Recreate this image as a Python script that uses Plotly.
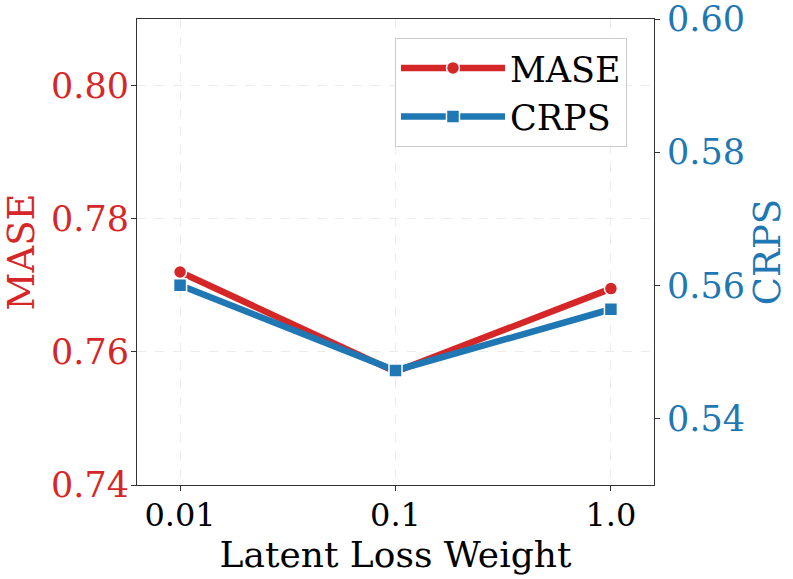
import plotly.graph_objects as go

categories = ["0.01", "0.1", "1.0"]
mase = [0.772, 0.757, 0.7695]
crps = [0.560, 0.5472, 0.5564]

RED = "#d62728"
BLUE = "#1f77b4"
FONT = "DejaVu Serif"

fig = go.Figure()
fig.add_trace(go.Scatter(
    x=categories, y=mase, name="MASE", mode="lines+markers",
    line=dict(color=RED, width=6.5),
    marker=dict(symbol="circle", size=13, color=RED, line=dict(color="white", width=1.5)),
    yaxis="y",
))
fig.add_trace(go.Scatter(
    x=categories, y=crps, name="CRPS", mode="lines+markers",
    line=dict(color=BLUE, width=6.5),
    marker=dict(symbol="square", size=13, color=BLUE, line=dict(color="white", width=1.5)),
    yaxis="y2",
))

grid = dict(showgrid=True, gridcolor="#ececec", griddash="dash", gridwidth=1)

fig.update_layout(
    width=793, height=579,
    margin=dict(l=137, r=139, t=19, b=94),
    paper_bgcolor="white", plot_bgcolor="white",
    font=dict(family=FONT, size=28, color="black"),
    showlegend=True,
    legend=dict(
        x=0.499, y=0.96, xanchor="left", yanchor="top",
        bgcolor="white", bordercolor="#cccccc", borderwidth=1,
        font=dict(family=FONT, size=35, color="black"),
        itemwidth=104, tracegroupgap=4,
    ),
    xaxis=dict(
        type="category", range=[-0.2, 2.2], automargin=False,
        title=dict(text="Latent Loss Weight", font=dict(family=FONT, size=36, color="black"), standoff=1),
        tickfont=dict(family=FONT, size=32, color="black"),
        ticks="outside", ticklen=5, tickcolor="#333",
        showline=True, linecolor="#333", linewidth=1, mirror=True,
        ticklabeloverflow="allow", ticklabelstandoff=-3,
        **grid,
    ),
    yaxis=dict(
        range=[0.74, 0.81], tickvals=[0.74, 0.76, 0.78, 0.80], ticktext=["0.74", "0.76", "0.78", "0.80"],
        automargin=False,
        title=dict(text="MASE", font=dict(family=FONT, size=37, color=RED), standoff=12),
        tickfont=dict(family=FONT, size=35, color=RED),
        ticks="outside", ticklen=5, tickcolor="#333",
        showline=True, linecolor="#333", linewidth=1,
        zeroline=False, ticklabeloverflow="allow", ticklabelstandoff=-5,
        **grid,
    ),
    yaxis2=dict(
        range=[0.53, 0.60], tickvals=[0.54, 0.56, 0.58, 0.60], ticktext=["0.54", "0.56", "0.58", "0.60"],
        overlaying="y", side="right", automargin=False,
        title=dict(text="CRPS", font=dict(family=FONT, size=37, color=BLUE), standoff=10),
        tickfont=dict(family=FONT, size=35, color=BLUE),
        ticks="outside", ticklen=5, tickcolor="#333",
        showline=True, linecolor="#333", linewidth=1,
        showgrid=False, zeroline=False, ticklabeloverflow="allow",
    ),
)

fig.write_html("out.html", config={"displayModeBar": False},
               post_script="document.body.style.margin='0';document.body.style.padding='0';")
